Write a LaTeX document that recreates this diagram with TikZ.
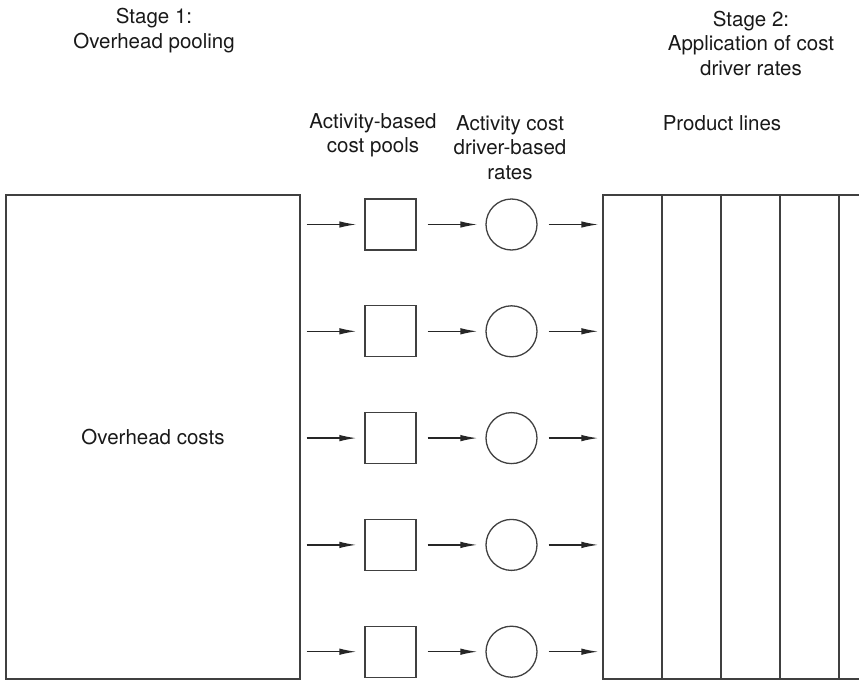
\documentclass[tikz,border=0pt]{standalone}
\usepackage{fontspec}
\setmainfont{TeX Gyre Heros}
\usepackage{tikz}
\usetikzlibrary{arrows.meta}
\usetikzlibrary{positioning}
\tikzset{flow arrow/.style={-{Latex[length=17pt,width=6.5pt]},line width=1.3pt,color=black!85},
flow arrow/.default={}}

\begin{document}
\begin{tikzpicture}[x=1pt,y=-1pt,
                    line width=1.3pt,
                    cost box/.style={rectangle,draw=black!75,minimum width=294pt,minimum height=484pt,inner sep=0pt},
                    line box/.style={rectangle,draw=black!75,minimum width=59pt,minimum height=484pt,inner sep=0pt},
                    pool node/.style={rectangle,draw=black!75,minimum size=51pt,inner sep=0pt},
                    rate node/.style={circle,draw=black!75,minimum size=51pt,inner sep=0pt},
                    label text/.style={align=center,text=black!90,font=\fontsize{20.5}{24.5}\selectfont}]

%DRAWING frame
 \useasboundingbox (0,0) rectangle (859,688);
 \clip (0,0) rectangle (859,688);

%Headings
 \node[label text] (StageOne) at (154,30.5) {Stage 1:\\Overhead pooling};
 \node[label text] (StageTwo) at (751,43) {Stage 2:\\Application of cost\\driver rates};
 \node[label text] (PoolLabel) at (373,135.5) {Activity-based\\cost pools};
 \node[label text] (RateLabel) at (510,147.5) {Activity cost\\driver-based\\rates};
 \node[label text] (ProductLabel) at (722,123) {Product lines};

%Overhead box and product lines
 \node[cost box,label text] (Overhead) at (153,437) {Overhead costs};

 \foreach \i in {1,...,5}
 {\node[line box] (Line\i) at (573.5+59*\i,437) {};}

%Pools, rates and arrows
 \foreach \i in {1,...,5}
 {\node[pool node] (Pool\i) at (390.5,224.5+106.8*\i-106.8) {};
  \node[rate node] (Rate\i) at (511.5,224.5+106.8*\i-106.8) {};
  \draw[flow arrow,shorten <=6pt,shorten >=8pt] (Overhead.east |- Pool\i) to (Pool\i.west);
  \draw[flow arrow,shorten <=11pt,shorten >=8pt] (Pool\i.east) to (Rate\i.west);
  \draw[flow arrow,shorten <=11pt,shorten >=4pt] (Rate\i.east) to (Line1.west |- Rate\i);}

\end{tikzpicture}
\end{document}
